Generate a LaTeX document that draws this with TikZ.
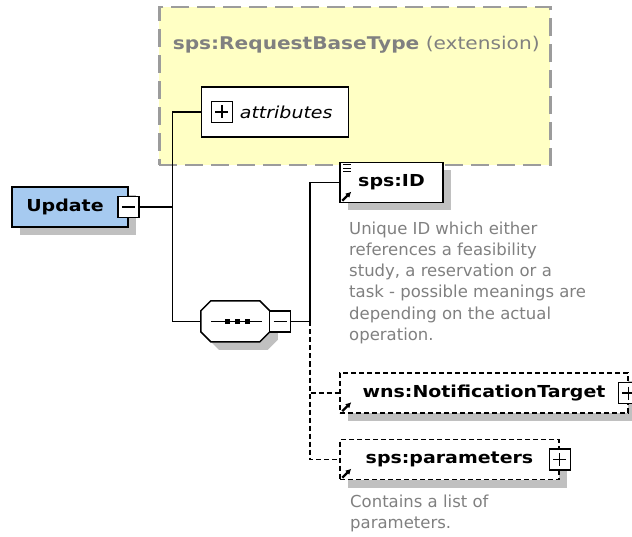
\documentclass[tikz,border=0pt]{standalone}
\usepackage{fontspec}
\setmainfont{DejaVu Sans}
\newfontfamily\xsdfont[FakeStretch=1.15]{DejaVu Sans}
\newcommand{\lblfont}{\xsdfont\fontsize{16.5}{20}\selectfont}
\newcommand{\docfont}{\fontsize{16.5}{21.2}\selectfont}
\usepackage{xcolor}
\definecolor{xsdBlue}{HTML}{A6CAF0}
\definecolor{xsdYellow}{HTML}{FFFFC4}
\definecolor{xsdGray}{HTML}{9C9C9C}
\definecolor{xsdShadow}{HTML}{C0C0C0}
\definecolor{xsdText}{HTML}{808080}
\usepackage{tikz}
\usetikzlibrary{
  arrows.meta,
  positioning,
  shadows
}
\tikzset{
  elemshadow/.style={
    drop shadow={shadow xshift=8pt,shadow yshift=-8pt,
      fill=xsdShadow,opacity=1}
  },
  rootbox/.style={
    rectangle,draw=black,fill=xsdBlue,line width=1.5pt,
    minimum width=116pt,minimum height=40pt,
    font=\lblfont\bfseries,elemshadow
  },
  basebox/.style={
    rectangle,draw=xsdGray,fill=xsdYellow,line width=2.4pt,
    dash pattern=on 18pt off 8pt,
    minimum width=391pt,minimum height=158pt
  },
  basetitle/.style={
    inner sep=0pt,text=xsdText,
    font=\xsdfont\fontsize{17.5}{20}\selectfont
  },
  attrbox/.style={
    rectangle,draw=black,fill=white,line width=1.5pt,
    minimum width=147pt,minimum height=50pt,
    font=\lblfont\itshape
  },
  elem/.style={
    rectangle,draw=black,fill=white,line width=1.5pt,
    minimum height=40pt,
    font=\lblfont\bfseries,elemshadow
  },
  optelem/.style={
    elem,dash pattern=on 5pt off 3pt
  },
  seqbox/.style={
    rectangle,minimum width=69pt,minimum height=41pt,inner sep=0pt
  },
  seqline/.style={draw=black,fill=white,line width=1.5pt},
  seqdot/.style={
    rectangle,fill=black,minimum size=5pt,inner sep=0pt
  },
  togbox/.style={
    rectangle,draw=black,fill=white,line width=1.5pt,
    minimum width=21pt,minimum height=21pt,inner sep=0pt
  },
  minustog/.style={
    togbox,
    path picture={
      \draw[line width=1.4pt] ([xshift=4pt]path picture bounding box.west)
        -- ([xshift=-4pt]path picture bounding box.east);
    }
  },
  plustog/.style={
    togbox,
    path picture={
      \draw[line width=1.4pt] ([xshift=4pt]path picture bounding box.west)
        -- ([xshift=-4pt]path picture bounding box.east);
      \draw[line width=1.4pt] ([yshift=-4pt]path picture bounding box.north)
        -- ([yshift=4pt]path picture bounding box.south);
    }
  },
  docnote/.style={
    anchor=north west,align=left,inner sep=0pt,
    text=xsdText,font=\docfont
  },
  conn/.style={-,line width=1.6pt,color=black},
  optconn/.style={-,line width=1.6pt,color=black,dash pattern=on 5pt off 3pt},
  refarrow/.style={-{Latex[length=5.5pt,width=6pt]},line width=2.2pt},
}

\begin{document}
\begin{tikzpicture}[x=1pt,y=-1pt]
\useasboundingbox (0,0) rectangle (632,537);

%% ── Base type ────────────────────────────────────────────
\node[basebox] (base) at (354.9,86.3) {};
\node[basetitle,anchor=base west] (basetitle) at (172.6,50)
  {\textbf{sps:RequestBaseType} (extension)};
\node[attrbox] (attr) at (275.2,111.9) {\hspace*{22pt}attributes};
\node[plustog] (attrtog) at ([xshift=21pt]attr.west) {};

%% ── Root element ─────────────────────────────────────────
\node[rootbox] (upd) at (70,207) {Update\hspace*{10pt}};
\node[minustog] (updtog) at ([xshift=-0.5pt]upd.east) {};

%% ── Sequence compositor ──────────────────────────────────
\node[seqbox] (seq) at (235.5,321.5) {};
\fill[xsdShadow] ([xshift=18pt,yshift=-8pt]seq.north west)
  -- ++(49,0) -- ++(10,10) -- ++(0,21) -- ++(-10,10)
  -- ++(-49,0) -- ++(-10,-10) -- ++(0,-21) -- cycle;
\path[seqline] ([xshift=10pt]seq.north west)
  -- ++(49,0) -- ++(10,10) -- ++(0,21) -- ++(-10,10)
  -- ++(-49,0) -- ++(-10,-10) -- ++(0,-21) -- cycle;
\draw[line width=1.4pt] ([xshift=-24.5pt]seq.center) -- ([xshift=26.5pt]seq.center);
\foreach \dx [count=\i] in {-8.5,1.5,11.5}
  \node[seqdot] (dot\i) at ([xshift=\dx pt]seq.center) {};
\node[minustog] (seqtog) at ([xshift=10pt]seq.east) {};

%% ── Child elements ───────────────────────────────────────
\node[elem,minimum width=103pt] (id) at (391.5,182.5) {sps:ID};
\node[optelem,minimum width=288pt] (wns) at (484,393) {wns:NotificationTarget};
\node[plustog] (wnstog) at (wns.east) {};
\node[optelem,minimum width=219pt] (params) at (449.5,459.5) {sps:parameters};
\node[plustog] (partog) at (params.east) {};

\foreach \dy in {3,6.5,10}
  \draw[line width=1.4pt] ([xshift=4pt,yshift=-\dy pt]id.north west) -- ++(8,0);
\foreach \n in {id,wns,params}
  \draw[refarrow] ([xshift=3pt,yshift=2.5pt]\n.south west) -- ++(9,-9);

%% ── Documentation ────────────────────────────────────────
\node[docnote] (iddoc) at (349,221.5) {Unique ID which either\\
  references a feasibility\\
  study, a reservation or a\\
  task - possible meanings are\\
  depending on the actual\\
  operation.};
\node[docnote] (pardoc) at (350,494.5) {Contains a list of\\parameters.};

%% ── Links ────────────────────────────────────────────────
\coordinate (fork) at (172.5,207);
\coordinate (seqfork) at (310,321.5);
\draw[conn] (updtog.east) -- (fork);
\draw[conn] (attr.west) -- (attr.west -| fork) |- (seq.west);
\draw[conn] (seqtog.east) -- (seqfork) |- (id.west);
\draw[optconn] (seqfork) |- (wns.west);
\draw[optconn] (seqfork) |- (params.west);

\end{tikzpicture}
\end{document}
